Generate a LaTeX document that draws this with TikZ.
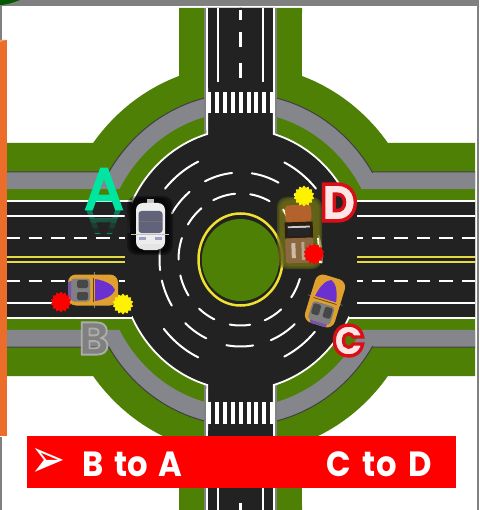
\documentclass[tikz,border=0pt]{standalone}
\usepackage{fontspec}
\setmainfont{Poppins}
\newfontfamily\symfont{DejaVu Sans}
\newfontface\heavyface{Poppins Black}
\usetikzlibrary{shapes.geometric}
\definecolor{grass}{HTML}{4E8006}
\definecolor{asphalt}{HTML}{222222}
\definecolor{walk}{HTML}{85858C}
\definecolor{frameg}{HTML}{808080}
\definecolor{ringy}{HTML}{F0E030}
\definecolor{liney}{HTML}{E6DA40}
\definecolor{teal}{HTML}{00E6A0}
\definecolor{labpink}{HTML}{FFE6E6}
\definecolor{orangebar}{HTML}{EC6C2A}
\definecolor{carorange}{HTML}{E0A030}
\definecolor{hoodviolet}{HTML}{6A30D0}
\definecolor{brownA}{HTML}{B4622C}
\definecolor{brownB}{HTML}{8C6840}
\definecolor{glow}{HTML}{6A6A18}
\tikzset{
  x=1pt,y=-1pt,
  ringd/.style={draw=white,line width=2pt,line cap=round},
  edgew/.style={draw=white,line width=1.8pt},
  laneline/.style={draw=white,line width=2pt},
  dashedlane/.style={draw=white,line width=2.2pt,dash pattern=on 13.5pt off 9pt},
  yellowline/.style={draw=liney,line width=1.5pt},
  lbl/.style={inner sep=0pt,anchor=center},
  burst/.style={star,star points=14,star point ratio=1.25,minimum size=21pt,inner sep=0pt},
  zebra/.style={fill=white},
  bannertxt/.style={inner sep=0pt,anchor=base west,text=white,xscale=.92,font=\fontsize{35}{35}\selectfont\bfseries},
}
% dash on an ellipse round the centre of the roundabout
\newcommand\ringarc[4]{\draw[ringd] plot[domain=#3:#4,samples=14,smooth] ({240.5+#1*cos(\x)},{259.5+#2*sin(\x)});}
% stroked label: #1 = stroke colour as pdf operands, #2 = stroke strength
\newcommand\strokedtext[3]{\special{pdf:code #1 RG}\addfontfeature{FakeBold=#2}#3}
\newcommand\sportscar[3]{%
  \begin{scope}[shift={(#1,#2)},rotate=#3]
    \draw[draw=frameg,line width=.6pt] (1,-18) -- (1,18);
    \fill[fill=carorange,rounded corners=8pt] (-25,-15.5) rectangle (25,15.5);
    \fill[fill=black!50!white,rounded corners=3pt] (-22,-11.5) rectangle (-3,11.5);
    \fill[fill=black!72!white,rounded corners=1.5pt] (-16,-10) rectangle (-5,-2);
    \fill[fill=black!72!white,rounded corners=1.5pt] (-16,2) rectangle (-5,10);
    \fill[fill=hoodviolet!55!gray] (-25,-8) -- (-22,-9) -- (-22,9) -- (-25,8) -- cycle;
    \fill[fill=hoodviolet] (2,-11) -- (2,11) .. controls (14,9) and (20,5) .. (22,0) .. controls (20,-5) and (14,-9) .. (2,-11) -- cycle;
    \draw[draw=black!60!carorange,line width=.7pt] (0,-12) -- (0,12);
  \end{scope}}
\begin{document}
\begin{tikzpicture}
\useasboundingbox (0,0) rectangle (479,510);
\fill[white] (0,0) rectangle (479,510);
% --- the four mirrored quadrants of the junction
\foreach \sx/\sy in {1/1,-1/1,1/-1,-1/-1}{
\begin{scope}[shift={(240.5,259.5)},xscale=\sx,yscale=\sy]
  \fill[grass] (1,1) -- (-234.5,1) -- (-234.5,-116.5) -- (-147.5,-116.5)
     -- plot[domain=-143.2:-109.5,samples=24] ({184*cos(\x)},{194.7*sin(\x)})
     -- (-61.5,-251.5) -- (1,-251.5) -- cycle;
  \fill[walk] (-234.5,-87.5) -- (-132,-87.5)
     -- plot[domain=-148.3:-103.4,samples=30] ({155*cos(\x)},{166*sin(\x)})
     -- (-33,-161.5) -- (-33,-142.5) -- (-36,-142.5)
     -- plot[domain=-105.1:-151.5,samples=30] ({137.7*cos(\x)},{147.6*sin(\x)})
     -- (-234.5,-70.5) -- cycle;
  \draw[black!75,line width=1pt] (-234.5,-87.5) -- (-132,-87.5)
     -- plot[domain=-148.3:-103.4,samples=30] ({155*cos(\x)},{166*sin(\x)}) -- (-33,-161.5);
\end{scope}}
\foreach \sx/\sy in {1/1,-1/1,1/-1,-1/-1}{
\begin{scope}[shift={(240.5,259.5)},xscale=\sx,yscale=\sy]
  \draw[frameg,line width=1.5pt] (-35.5,-124) -- (-35.5,-251.5);
  \fill[asphalt] (1,1) -- (-234.5,1) -- (-234.5,-58.5) -- (-108.5,-58.5)
     -- plot[domain=-153.5:-106,samples=30] ({121*cos(\x)},{130.5*sin(\x)})
     -- (-33.5,-251.5) -- (1,-251.5) -- cycle;
  \draw[edgew] (-234.5,-58.5) -- (-108.5,-58.5)
     -- plot[domain=-153.5:-106,samples=30] ({121*cos(\x)},{130.5*sin(\x)})
     -- (-33.5,-251.5);
  \draw[laneline] (-234.5,-43.5) -- (-116,-43.5);
  \draw[dashedlane] (-234.5,-21.5) -- (-116,-21.5);
  \draw[yellowline] (-234.5,-2.4) -- (-116,-2.4);
  \draw[laneline] (-22.5,-251.5) -- (-22.5,-177.5);
\end{scope}}
% centre dashes of the north and south arms
\draw[draw=white,line width=3pt] (240.5,10) -- (240.5,20) (240.5,32) -- (240.5,47) (240.5,63) -- (240.5,78);
\draw[draw=white,line width=3pt] (240.5,503) -- (240.5,510);
% crossings
\foreach \i in {0,...,8}{
  \fill[zebra] ({207+\i*7.9},92) rectangle ++(4,21);
  \fill[zebra] ({207+\i*7.9},402) rectangle ++(4,22);
}
% circular lane dashes
\foreach \s/\e in {-148/-129,-116/-95,-81/-62,-48/-30,-18/0,17/35,49/67,81/100,115/132,147/166,180/199}{
  \ringarc{62}{66}{\s}{\e}
}
\foreach \s/\e in {-148/-129,-116/-96,-82/-62,-48/-30,-16/2,48/68,81/100,115/133,148/166,173/199}{
  \ringarc{81}{87}{\s}{\e}
}
\foreach \s/\e in {-139/-115,-64/-41,42/64,115/140}{
  \ringarc{100}{108}{\s}{\e}
}
% island
\draw[ringy,line width=2.5pt] (240.5,259.5) ellipse[x radius=42,y radius=46];
\fill[grass] (240.5,260) ellipse[x radius=38.7,y radius=41];
% --- car A (white)
\foreach \g in {0,1,2,3}{
  \fill[black,opacity=.3,rounded corners=9pt] ({127+\g*1.5},{196+\g}) rectangle ({173-\g*1.5},{255-\g});
}
\fill[black!25] (147,199) rectangle (154,204);
\fill[white!93!black,rounded corners=7pt] (136,203) rectangle (165,249);
\fill[black!10,rounded corners=5pt] (139,244) rectangle (162,250);
\fill[black!30!blue!15!gray!90!black,rounded corners=3pt] (138.5,211) rectangle (162.5,233);
\draw[black!55,line width=.6pt] (139,221) -- (162,221);
\draw[black!25,line width=1.2pt] (131,234.5) -- (169,234.5);
\fill[blue!25!gray!60!white] (139,237) rectangle (146,240);
\fill[blue!25!gray!60!white] (155,237) rectangle (162,240);
% --- car B
\sportscar{93}{290}{0}
\node[burst,fill=red] (burstBr) at (61,302) {};
\node[burst,fill=yellow] (burstBy) at (123,304) {};
% --- car C
\sportscar{325}{301}{73}
% --- car D
\foreach \g in {0,1,2}{
  \fill[glow,opacity=.5,rounded corners=10pt] ({277+\g*1.5},{197+\g*1.5}) rectangle ({322-\g*1.5},{269-\g*1.5});
}
\draw[white!85!yellow,line width=1.8pt] (283,209) -- (287,217);
\draw[white!85!yellow,line width=1.8pt] (318,238) -- (320,263);
\begin{scope}[rotate around={2:(299,234)}]
  \fill[brownA,rounded corners=3pt] (286,205) rectangle (312,222);
  \fill[black!70!brownB] (285,222) rectangle (313,238);
  \fill[black!20] (288,226) rectangle (310,228);
  \fill[black!85] (288,228) rectangle (310,236);
  \fill[brownB,rounded corners=2pt] (285,238) rectangle (313,263);
  \fill[brownB!45!white] (291,243) rectangle (295,258);
  \fill[brownB!60!white] (301,242) rectangle (304,260);
\end{scope}
\node[burst,fill=yellow] (burstDy) at (304,196) {};
\node[burst,fill=red] (burstDr) at (314,254) {};
% --- letters
\begin{scope}
  \clip (80,209) rectangle (130,233);
  \node[lbl,font=\fontsize{58}{58}\selectfont,text=teal,text opacity=.5,yscale=-1] (labelAr) at (104,230) {A};
\end{scope}
\foreach \j/\o in {0/.1,1/.3,2/.5,3/.7,4/.9}{
  \pgfmathsetmacro\ytop{209+\j*4.8}
  \fill[asphalt,opacity=\o] (80,\ytop) rectangle (130,\ytop+4.8);
}
\draw[laneline] (80,216) -- (124,216);
\node[lbl,font=\fontsize{58}{58}\selectfont,text=teal] (labelA) at (104,189) {\strokedtext{0 0.9 0.63}{4}{A}};
\node[lbl,font=\fontsize{46}{46}\selectfont\bfseries,text=frameg] (labelB) at (94,338.5) {\strokedtext{0.68 0.68 0.68}{4}{B}};
\node[lbl,font=\heavyface\fontsize{43}{43}\selectfont,xscale=.95,text=labpink] (labelC) at (348.5,340.5) {\strokedtext{0.85 0.06 0.09}{8}{C}};
\node[lbl,font=\heavyface\fontsize{52}{52}\selectfont,xscale=.92,text=labpink] (labelD) at (339,202.5) {\strokedtext{0.85 0.06 0.09}{7}{D}};
% --- banner
\fill[red] (27,436) rectangle (456,488);
\node[inner sep=0pt,anchor=center,text=white,yscale=1.3,font=\symfont\fontsize{42}{42}\selectfont] (bullet) at (48,463) {➢};
\node[bannertxt] (bannerL) at (82,476) {B\hspace{.12em} to\hspace{.12em} A};
\node[bannertxt] (bannerR) at (326,476) {C\hspace{.17em} to\hspace{.17em} D};
% --- slide frame remains
\fill[frameg] (0,0) rectangle (479,6);
\fill[frameg] (0,0) rectangle (2,40);
\fill[frameg] (0,437) rectangle (2,510);
\fill[frameg] (477,0) rectangle (479,510);
\fill[green!35!black] (0,0) -- (20,0) .. controls (12,3) and (6,5) .. (0,5) -- cycle;
\fill[orangebar] (0,40) rectangle (6.5,436);
\fill[orangebar!70!white] (0,42) -- (6.5,40) -- (0,40) -- cycle;
\end{tikzpicture}
\end{document}
